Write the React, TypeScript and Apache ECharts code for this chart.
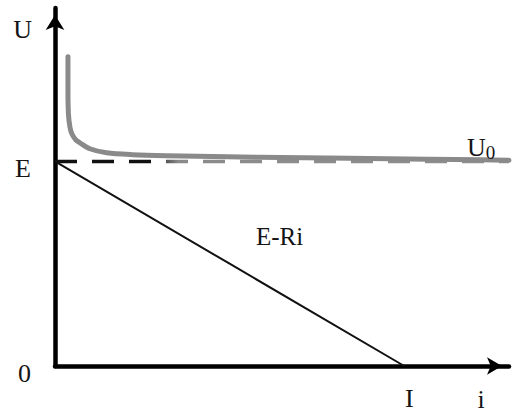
import React, { useEffect, useRef } from "react";
import * as echarts from "echarts";

// Axis extents (in units of E for voltage, I for current)
const X_MAX = 1.3;
const Y_MAX = 1.75;
const E_VALUE = 1;
const I_VALUE = 1;

// Terminal voltage U0 versus current i
const u0Current = [0.0371, 0.0371, 0.0385, 0.0428, 0.0485, 0.0599, 0.0713, 0.0998, 0.148, 0.222, 0.319, 0.584, 0.841, 1.069, 1.22, 1.3];
const u0Voltage = [1.512, 1.352, 1.231, 1.168, 1.134, 1.105, 1.091, 1.062, 1.042, 1.033, 1.028, 1.02, 1.016, 1.011, 1.008, 1.006];
const U0_LABEL_INDEX = 14;

// Load line E - Ri
const lineCurrent = [0, 0.5, 1];
const lineVoltage = [1, 0.5, 0];
const LINE_LABEL_INDEX = 1;

// Reference level E
const eCurrent = [0, X_MAX];
const eVoltage = [E_VALUE, E_VALUE];

const FONT = "'Liberation Serif', 'Times New Roman', serif";
const INK = "#151515";

const GRID = { left: 55, right: 1, top: 8, bottom: 43 };
const CHART_W = 512;

export default function App() {
  const ref = useRef<HTMLDivElement>(null);

  useEffect(() => {
    if (!ref.current) return;
    const chart = echarts.init(ref.current, null, { renderer: "svg" });

    const u0Data = u0Current.map((x, i) => {
      const point: any = { value: [x, u0Voltage[i]] };
      if (i === U0_LABEL_INDEX) {
        point.label = {
          show: true,
          position: "top",
          distance: 2,
          offset: [0, 4],
          formatter: "{a|U}{s|0}",
          rich: {
            a: { fontFamily: FONT, fontSize: 26, color: INK },
            s: { fontFamily: FONT, fontSize: 19, color: INK, padding: [10, 0, 0, 0] },
          },
        };
      }
      return point;
    });

    const lineData = lineCurrent.map((x, i) => {
      const point: any = { value: [x, lineVoltage[i]] };
      if (i === LINE_LABEL_INDEX) {
        point.label = {
          show: true,
          position: "top",
          offset: [50, -10],
          formatter: "E-Ri",
          fontFamily: FONT,
          fontSize: 25,
          color: INK,
        };
      }
      return point;
    });

    // dashes are dark near the axis and fade into the grey of the U0 curve
    const plotLeft = GRID.left;
    const plotRight = CHART_W - GRID.right;
    const dashColor = new echarts.graphic.LinearGradient(
      plotLeft, 0, plotRight, 0,
      [
        { offset: 0, color: "#111111" },
        { offset: 0.21, color: "#111111" },
        { offset: 0.27, color: "#8a8a8a" },
        { offset: 1, color: "#909090" },
      ],
      true
    );

    chart.setOption({
      animation: false,
      backgroundColor: "#ffffff",
      grid: GRID,
      xAxis: {
        type: "value",
        min: 0,
        max: X_MAX,
        interval: 0.5,
        name: "i",
        nameLocation: "end",
        nameGap: -28,
        nameTextStyle: {
          fontFamily: FONT,
          fontSize: 26,
          color: INK,
          align: "center",
          verticalAlign: "top",
          padding: [20, 0, 0, 0],
        },
        axisLine: {
          show: true,
          symbol: ["none", "arrow"],
          symbolSize: [13, 15],
          symbolOffset: [0, -7],
          lineStyle: { color: "#000", width: 4.5 },
        },
        axisTick: { show: false },
        splitLine: { show: false },
        axisLabel: {
          margin: 19,
          fontFamily: FONT,
          fontSize: 26,
          color: INK,
          padding: [0, 0, 0, 10],
          formatter: (v: number) => (Math.abs(v - I_VALUE) < 1e-9 ? "I" : ""),
        },
      },
      yAxis: {
        type: "value",
        min: 0,
        max: Y_MAX,
        interval: 0.25,
        name: "U",
        nameLocation: "end",
        nameGap: -8,
        nameTextStyle: {
          fontFamily: FONT,
          fontSize: 26,
          color: INK,
          align: "right",
          verticalAlign: "top",
          padding: [0, 23, 0, 0],
        },
        axisLine: {
          show: true,
          symbol: ["none", "arrow"],
          symbolSize: [14, 15],
          symbolOffset: [0, -7],
          lineStyle: { color: "#000", width: 4.5 },
        },
        axisTick: { show: false },
        splitLine: { show: false },
        axisLabel: {
          margin: 24,
          fontFamily: FONT,
          fontSize: 26,
          color: INK,
          verticalAlign: "top",
          lineHeight: 14,
          formatter: (v: number) =>
            Math.abs(v - E_VALUE) < 1e-9 ? "E" : Math.abs(v) < 1e-9 ? "0" : "",
        },
      },
      series: [
        {
          name: "E",
          type: "line",
          data: eCurrent.map((x, i) => [x, eVoltage[i]]),
          showSymbol: false,
          z: 2,
          lineStyle: { width: 3.5, type: [22, 15], color: dashColor },
        },
        {
          name: "U0",
          type: "line",
          data: u0Data,
          smooth: 0.3,
          symbol: "circle",
          symbolSize: 0,
          z: 3,
          lineStyle: { width: 5, color: "#8a8a8a", cap: "round", join: "round" },
          itemStyle: { color: "#8a8a8a" },
        },
        {
          name: "E-Ri",
          type: "line",
          data: lineData,
          symbol: "circle",
          symbolSize: 0,
          z: 4,
          lineStyle: { width: 2, color: "#111111" },
          itemStyle: { color: "#111111" },
        },
      ],
    });

    return () => chart.dispose();
  }, []);

  return (
    <div
      ref={ref}
      style={{ position: "fixed", left: 0, top: 0, width: CHART_W, height: 412, background: "#fff" }}
    />
  );
}
